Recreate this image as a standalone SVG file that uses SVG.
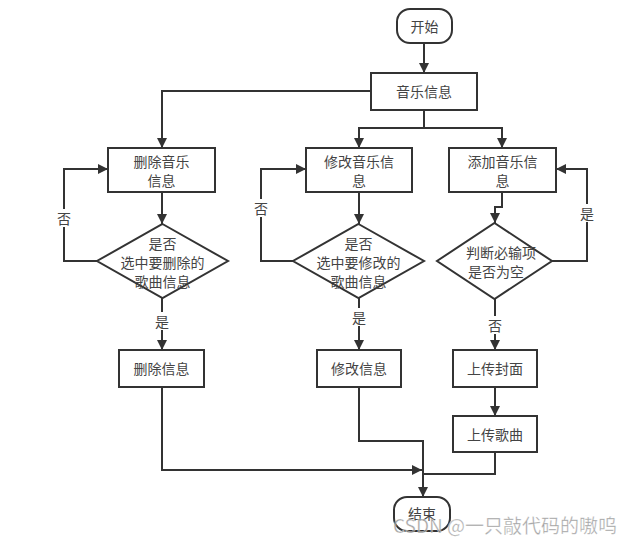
<svg xmlns="http://www.w3.org/2000/svg" width="640" height="545" viewBox="0 0 640 545">
<defs>
<marker id="arr" viewBox="0 0 10 10" refX="10" refY="5" markerWidth="10" markerHeight="10" markerUnits="userSpaceOnUse" orient="auto">
<path d="M0,0 L10,5 L0,10 Z" fill="#333"/>
</marker>
<style>
.n{fill:#fff;stroke:#333;stroke-width:2}
.t{font-family:"Noto Sans CJK SC","Noto Sans",sans-serif;font-size:14px;fill:#444;text-anchor:middle;dominant-baseline:central}
.c{fill:none;stroke:#333;stroke-width:2}
.lb{fill:#fff}
</style>
</defs>
<rect width="640" height="545" fill="#fff"/>
<g id="connectors">
<path class="c" d="M424,43 V73" marker-end="url(#arr)"/>
<path class="c" d="M371,91 H162 V148" marker-end="url(#arr)"/>
<path class="c" d="M424,110 V128 H359 V148" marker-end="url(#arr)"/>
<path class="c" d="M424,128 H502 V148" marker-end="url(#arr)"/>
<path class="c" d="M162,192 V224" marker-end="url(#arr)"/>
<path class="c" d="M97,261 H64 V169 H108" marker-end="url(#arr)"/>
<path class="c" d="M162,298 V350" marker-end="url(#arr)"/>
<path class="c" d="M359,192 V224" marker-end="url(#arr)"/>
<path class="c" d="M293,261 H261 V169 H306" marker-end="url(#arr)"/>
<path class="c" d="M359,298 V350" marker-end="url(#arr)"/>
<path class="c" d="M502,192 V207 H495 V223" marker-end="url(#arr)"/>
<path class="c" d="M552,261 H587 V169 H556" marker-end="url(#arr)"/>
<path class="c" d="M495,299 V350" marker-end="url(#arr)"/>
<path class="c" d="M495,387 V416" marker-end="url(#arr)"/>
<path class="c" d="M495,452 V474 H423"/>
<path class="c" d="M359,387 V441 H423 V497" marker-end="url(#arr)"/>
<path class="c" d="M162,387 V470 H422" marker-end="url(#arr)"/>
<rect class="lb" x="56" y="209" width="16" height="18"/>
<text class="t" x="64" y="218">否</text>
<rect class="lb" x="253" y="199" width="16" height="18"/>
<text class="t" x="261" y="208">否</text>
<rect class="lb" x="579" y="204" width="16" height="18"/>
<text class="t" x="587" y="213">是</text>
<rect class="lb" x="154" y="312" width="16" height="18"/>
<text class="t" x="162" y="321">是</text>
<rect class="lb" x="351" y="308" width="16" height="18"/>
<text class="t" x="359" y="317">是</text>
<rect class="lb" x="487" y="316" width="16" height="18"/>
<text class="t" x="495" y="325">否</text>
</g>
<g id="start"><rect class="n" x="397" y="9" width="55" height="34" rx="13"/><text class="t" x="424.5" y="26">开始</text></g>
<g id="music"><rect class="n" x="371" y="73" width="106" height="37"/><text class="t" x="424" y="91">音乐信息</text></g>
<g id="del"><rect class="n" x="108" y="148" width="107" height="44"/><text class="t" x="161.5" y="161">删除音乐</text><text class="t" x="161.5" y="180">信息</text></g>
<g id="mod"><rect class="n" x="306" y="148" width="106" height="44"/><text class="t" x="359" y="161">修改音乐信</text><text class="t" x="359" y="180">息</text></g>
<g id="add"><rect class="n" x="449" y="148" width="107" height="44"/><text class="t" x="502.5" y="161">添加音乐信</text><text class="t" x="502.5" y="180">息</text></g>
<g id="d1"><path class="n" d="M162.5,224 L228,261 L162.5,298 L97,261 Z"/><text class="t" x="162.5" y="243">是否</text><text class="t" x="162.5" y="262">选中要删除的</text><text class="t" x="162.5" y="281">歌曲信息</text></g>
<g id="d2"><path class="n" d="M358.5,224 L424,261 L358.5,298 L293,261 Z"/><text class="t" x="358.5" y="243">是否</text><text class="t" x="358.5" y="262">选中要修改的</text><text class="t" x="358.5" y="281">歌曲信息</text></g>
<g id="d3"><path class="n" d="M494.5,223 L552,261 L494.5,299 L437,261 Z"/><text class="t" x="501" y="252">判断必输项</text><text class="t" x="496" y="271">是否为空</text></g>
<g id="delinfo"><rect class="n" x="119" y="350" width="85" height="37"/><text class="t" x="161.5" y="368">删除信息</text></g>
<g id="modinfo"><rect class="n" x="317" y="350" width="84" height="37"/><text class="t" x="359" y="368">修改信息</text></g>
<g id="cover"><rect class="n" x="453" y="350" width="84" height="37"/><text class="t" x="495" y="368">上传封面</text></g>
<g id="song"><rect class="n" x="453" y="416" width="84" height="36"/><text class="t" x="495" y="434">上传歌曲</text></g>
<g id="end"><rect class="n" x="394" y="497" width="56" height="34" rx="13"/><text class="t" x="422" y="513">结束</text></g>
<text x="393" y="533" font-family="&quot;Noto Sans CJK SC&quot;,sans-serif" font-size="19" fill="#8a8a8a" fill-opacity="0.8" stroke="#fff" stroke-width="0.6" stroke-opacity="0.6">CSDN @一只敲代码的嗷呜</text>
</svg>
